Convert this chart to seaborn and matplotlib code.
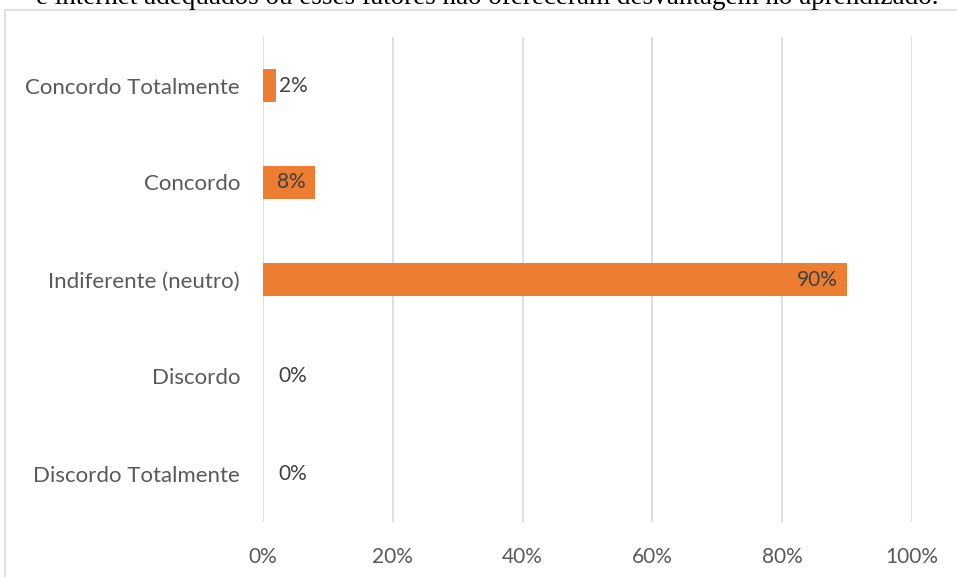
import matplotlib
matplotlib.use('Agg')
import matplotlib.pyplot as plt
import seaborn as sns
import pandas as pd
from matplotlib.patches import Rectangle
from matplotlib.ticker import PercentFormatter

categorias = ['Concordo Totalmente', 'Concordo', 'Indiferente (neutro)', 'Discordo', 'Discordo Totalmente']
percentuais = [2, 8, 90, 0, 0]
ticks_x = [0, 20, 40, 60, 80, 100]
titulo = 'e internet adequados ou esses fatores não ofereceram desvantagem no aprendizado.'

df = pd.DataFrame({'Resposta': categorias, 'Percentual': percentuais})

sns.set_style('white')
plt.rcParams['font.family'] = ['Lato', 'DejaVu Sans']

fig = plt.figure(figsize=(9.57, 5.77), dpi=100)
ax = fig.add_axes([263 / 957, 1 - 522 / 577, 649 / 957, 485 / 577])

sns.barplot(data=df, x='Percentual', y='Resposta', color='#ED7D31',
            width=0.34, saturation=1, linewidth=0, ax=ax, zorder=3)

ax.set_xlim(0, 100)
ax.set_xticks(ticks_x)
ax.xaxis.set_major_formatter(PercentFormatter(decimals=0))
ax.grid(axis='x', color='#d9d9d9', linewidth=1.2, zorder=0)
ax.set_axisbelow(True)
for s in ax.spines.values():
    s.set_visible(False)
ax.tick_params(axis='x', length=0, labelsize=15, colors='#595959', pad=18)
ax.tick_params(axis='y', length=0, labelsize=16, colors='#595959', pad=16.5)
ax.set_xlabel('')
ax.set_ylabel('')

# rótulos de dados
for i, v in enumerate(percentuais):
    if v >= 5:
        ax.annotate(f'{v}%', (v, i), xytext=(-7, 0), textcoords='offset points',
                    ha='right', va='center', fontsize=15, color='#404040', zorder=4)
    else:
        dx = 2 if v > 0 else 11
        ax.annotate(f'{v}%', (v, i), xytext=(dx, 0), textcoords='offset points',
                    ha='left', va='center', fontsize=15, color='#404040', zorder=4)

# moldura do gráfico
fig.patches.append(Rectangle((5 / 957, -0.1), 1.2, 1 - 10 / 577 + 0.1,
                             transform=fig.transFigure, fill=False,
                             edgecolor='#d9d9d9', linewidth=1.2))

fig.text(487 / 957, 1 - 4 / 577, titulo, ha='center', va='baseline',
         fontsize=19.5, family='Liberation Serif', color='black')

fig.savefig('out.png', dpi=100)
